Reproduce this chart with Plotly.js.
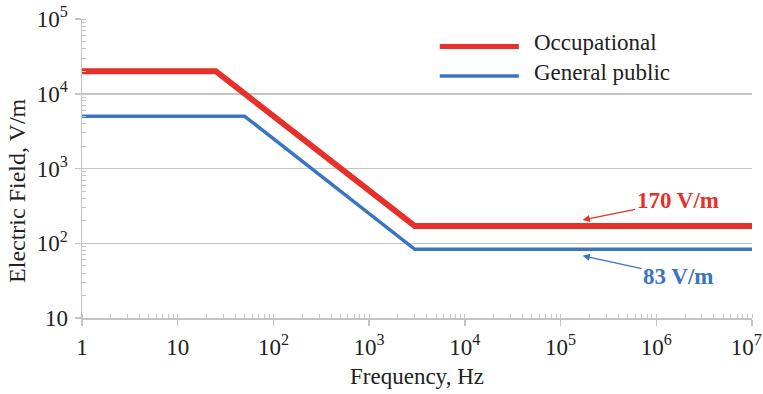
<!DOCTYPE html>
<html>
<head>
<meta charset="utf-8">
<script src="https://cdn.plot.ly/plotly-3.0.1.min.js"></script>
<style>html,body{margin:0;padding:0;background:#fff;}#chart{width:763px;height:394px;}</style>
</head>
<body>
<div id="chart"></div>
<script>
// Data
const seriesNames = ["Occupational", "General public"];
const freqOccupational = [1, 25, 3000, 1e7];
const fieldOccupational = [20000, 20000, 170, 170];
const freqPublic = [1, 50, 3000, 1e7];
const fieldPublic = [5000, 5000, 83, 83];
const xTickVals = [1, 10, 100, 1000, 1e4, 1e5, 1e6, 1e7];
const xTickText = ["1", "10", "10<sup>2</sup>", "10<sup>3</sup>", "10<sup>4</sup>", "10<sup>5</sup>", "10<sup>6</sup>", "10<sup>7</sup>\u00a0\u00a0"];
const yTickVals = [10, 100, 1000, 1e4, 1e5];
const yTickText = ["10", "10<sup>2</sup>", "10<sup>3</sup>", "10<sup>4</sup>", "10<sup>5</sup>"];
const labelOccupational = "170 V/m";
const labelPublic = "83 V/m";
const xTitle = "Frequency, Hz";
const yTitle = "Electric Field, V/m";

const RED = "#e5312a";
const BLUE = "#3b74c2";
const GRID = "#c4c4c4";
const FONT = "Liberation Serif, Times New Roman, serif";
const FS = 23;

const traces = [
  {x: freqPublic, y: fieldPublic, mode: "lines", name: seriesNames[1],
   line: {color: BLUE, width: 3.5}, showlegend: false},
  {x: freqOccupational, y: fieldOccupational, mode: "lines", name: seriesNames[0],
   line: {color: RED, width: 6}, showlegend: false}
];

const axisCommon = {
  type: "log",
  showline: true, linecolor: GRID, linewidth: 1.5,
  ticks: "outside", ticklen: 6, tickcolor: GRID, tickwidth: 1.5,
  tickfont: {family: FONT, size: FS, color: "#222"},
  zeroline: false, ticklabeloverflow: "allow",
  minor: {ticks: "inside", ticklen: 4, tickcolor: GRID, tickwidth: 1, showgrid: false, dtick: "D1"}
};

const layout = {
  width: 763, height: 394,
  margin: {l: 82, r: 11, t: 19, b: 76},
  paper_bgcolor: "#fff", plot_bgcolor: "#fff",
  font: {family: FONT, color: "#222"},
  showlegend: false,
  xaxis: Object.assign({}, axisCommon, {
    range: [0, 7], tickmode: "array", tickvals: xTickVals, ticktext: xTickText,
    showgrid: false, ticklabelstandoff: 2,
    title: {text: xTitle, font: {family: FONT, size: FS, color: "#222"}, standoff: 9}
  }),
  yaxis: Object.assign({}, axisCommon, {
    range: [1, 5], tickmode: "array", tickvals: yTickVals, ticktext: yTickText,
    showgrid: true, gridcolor: GRID, gridwidth: 1.5, ticklabelstandoff: 2
  }),
  shapes: [
    {type: "line", xref: "paper", yref: "paper", x0: 0.534, x1: 0.652, y0: 0.908, y1: 0.908,
     line: {color: RED, width: 5}},
    {type: "line", xref: "paper", yref: "paper", x0: 0.534, x1: 0.652, y0: 0.809, y1: 0.809,
     line: {color: BLUE, width: 3.5}}
  ],
  annotations: [
    {xref: "paper", yref: "paper", x: -0.097, y: 0.425, xanchor: "center", yanchor: "middle",
     text: yTitle, textangle: -90, showarrow: false, font: {family: FONT, size: 24, color: "#222"}},
    {xref: "paper", yref: "paper", x: 0.671, y: 0.922, xanchor: "left", yanchor: "middle",
     text: seriesNames[0], showarrow: false, font: {family: FONT, size: FS, color: "#222"}},
    {xref: "paper", yref: "paper", x: 0.671, y: 0.82, xanchor: "left", yanchor: "middle",
     text: seriesNames[1], showarrow: false, font: {family: FONT, size: FS, color: "#222"}},
    {x: Math.log10(1.7e5), y: Math.log10(205), xref: "x", yref: "y",
     text: "<b>" + labelOccupational + "</b>", font: {family: FONT, size: FS, color: RED},
     showarrow: true, arrowhead: 2, arrowsize: 1.2, arrowwidth: 1.2, arrowcolor: RED,
     ax: 95, ay: -19, axref: "pixel", ayref: "pixel"},
    {x: Math.log10(1.7e5), y: Math.log10(68), xref: "x", yref: "y",
     text: "<b>" + labelPublic + "</b>", font: {family: FONT, size: FS, color: BLUE},
     showarrow: true, arrowhead: 2, arrowsize: 1.2, arrowwidth: 1.2, arrowcolor: BLUE,
     ax: 96, ay: 21, axref: "pixel", ayref: "pixel"}
  ]
};

Plotly.newPlot("chart", traces, layout, {displayModeBar: false, staticPlot: true});
</script>
</body>
</html>
